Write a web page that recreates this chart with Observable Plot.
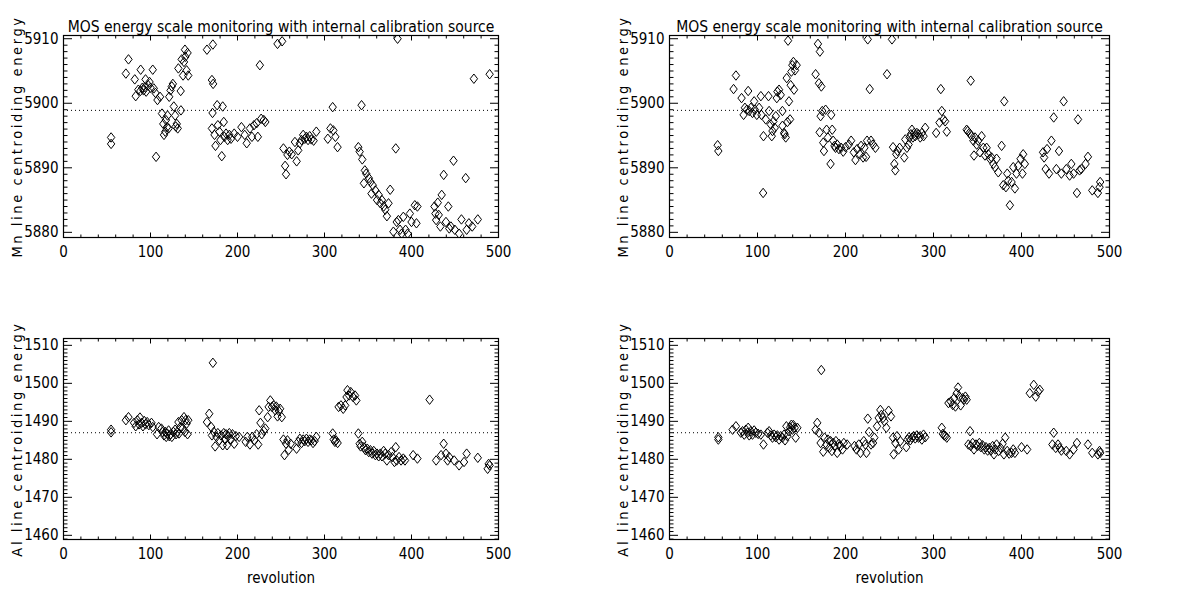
<!DOCTYPE html>
<html><head><meta charset="utf-8">
<script src="https://cdn.jsdelivr.net/npm/d3@7"></script>
<script src="https://cdn.jsdelivr.net/npm/@observablehq/plot@0.6"></script>
<style>
body{margin:0;background:#fff;}
#wrap{position:relative;width:1201px;height:591px;overflow:hidden;background:#fff;}
#wrap svg{position:absolute;}
</style></head><body><div id="wrap"></div>
<script>
const titleText = "MOS energy scale monitoring with internal calibration source";
const xLabel = "revolution";
const mnLabel = "Mn line centroiding energy";
const alLabel = "Al line centroiding energy";
const xTicks = [0,100,200,300,400,500];
const mnTicks = [5880,5890,5900,5910];
const alTicks = [1460,1470,1480,1490,1500,1510];
const mnDomain = [5879.2, 5910.5];
const alDomain = [1458.9, 1511.8];
const mnRef = 5898.9;
const alRef = 1487;

// MOS1 Mn (top left): [revolution, energy]
const mos1Mn = [[54.7,5894.7],[54.7,5893.7],[71.7,5904.6],[74.7,5906.8],[81.9,5903.7],[83,5901.1],[88.7,5905.2],[86,5902.1],[88.3,5901.9],[90.6,5902.4],[92,5902],[93.6,5902.5],[95,5901.8],[94.3,5903.7],[97.4,5902.8],[98.9,5903.3],[100,5902.4],[102.6,5905.2],[103.8,5902.3],[105.7,5901.6],[106.4,5891.7],[108,5900.5],[111,5901],[113.2,5898.4],[114.7,5896.8],[115.5,5895.1],[117,5895.6],[117.7,5897.4],[118.9,5896.3],[119.6,5898.1],[120.8,5896.1],[121.5,5901],[123,5902],[124.5,5902.6],[125.7,5903],[126.8,5899.5],[128.3,5898.1],[129,5896.4],[130.2,5896.8],[131.3,5896.1],[132,5905.4],[134.7,5901.9],[135,5898.9],[135.8,5906.8],[137.4,5904.3],[138.5,5906.4],[139.6,5908.3],[140,5907.2],[141.5,5905.1],[142.6,5907.8],[143.4,5904.3],
[164.9,5908.3],[171.7,5909.1],[170.6,5903.6],[172,5903],[171.3,5898.5],[170.6,5896.1],[173.6,5895.1],[174.7,5893.4],[176.6,5899.7],[177.4,5896.6],[179.2,5895.6],[180.4,5894.3],[183,5899.5],[181.9,5891.8],[184.2,5897.1],[184.9,5894.8],[186.8,5895.3],[188.7,5894.3],[190.6,5895.1],[192.5,5894.5],[196.2,5895.3],[200,5894.8],[204.5,5896.3],[208.3,5895.1],[210.6,5893.8],[214.3,5896.1],[216.6,5894.8],[218.9,5896.6],[221.9,5896.9],[223.4,5894.8],[225.7,5905.9],[227.2,5897.6],[230.2,5897.4],[232,5897.1],
[246,5909.2],[251.3,5909.6],[252.8,5893],[254.7,5890.3],[255.8,5889],[257.4,5892],[259.6,5892.5],[262.3,5892.1],[266,5894],[268,5891],[269.8,5892.7],[271.7,5893.8],[273.6,5894.3],[275.5,5895.1],[277.4,5894.5],[279.2,5894.8],[281.1,5894.3],[283,5894.9],[284.9,5894.4],[287.5,5894.2],[290.6,5895.6],[303.8,5894.5],[306.8,5896.1],[309.4,5899.4],[310.2,5895.8],[312.5,5894.8],[315,5893.2],
[338.9,5893.2],[340.4,5892.5],[342.6,5899.7],[343.4,5891.3],[346.4,5889.6],[347.9,5889.1],[345.3,5887.6],[351,5888.4],[352.8,5887.8],[354,5886],[355.5,5887.3],[358.5,5886.5],[360.4,5885],[362.3,5885.8],[364.2,5884.5],[366,5885],[368,5884],[369.8,5883.5],[371.7,5882.5],[373.6,5884.5],[375.5,5886.6],[384,5910],[381.9,5893],[379.2,5880.1],[383,5881.6],[384.9,5881.9],[386.8,5880.4],[388.7,5879.8],[390.6,5882.4],[393.2,5880.4],[395.5,5879.8],[398.1,5882.9],[400,5881.6],[403.8,5884.2],[405.7,5881.4],[406.8,5884],
[426.4,5884],[427.5,5882.9],[428.3,5881.9],[430.2,5884.6],[431.3,5882.7],[433.2,5880.9],[434.7,5885.8],[437,5888.9],[439.6,5881.6],[442.3,5884],[443.4,5880.6],[445.3,5880.9],[448.3,5891.1],[449.8,5880.4],[454.7,5879.8],[457.4,5882],[462.3,5888.4],[463.4,5880.4],[466,5881.4],[469.8,5880.9],[471.7,5903.8],[476.2,5882],[489.8,5904.5]];

// MOS2 Mn (top right)
const mos2Mn = [[54.7,5893.5],[55.5,5892.6],[72.8,5902.2],[75.5,5904.3],[81.9,5900.8],[84.2,5898.2],[89.4,5901.9],[85.7,5899.3],[87.9,5899],[90.6,5898.8],[92.5,5899.3],[94.3,5898.5],[96.2,5900.3],[97,5899],[99.2,5898.2],[101.9,5899.3],[103.8,5901.1],[104.5,5898.2],[106.8,5894.9],[106.4,5886.1],[109.4,5897.5],[112.5,5901.1],[113.2,5898.8],[115.1,5896.7],[116.2,5894.9],[117,5895.7],[118.1,5897.2],[119.6,5896.2],[120.8,5898],[121.9,5900.8],[122.6,5901.8],[124.5,5902.1],[126.4,5901.3],[128.3,5898.8],[128.3,5896.5],[130.2,5895.4],[130.9,5895.2],[132.1,5894.7],[133.2,5903.9],[134,5897.1],[134.7,5909.7],[135.8,5900.3],[137,5897.5],[137.7,5902.8],[138.5,5904.9],[139.6,5905.9],[140.8,5906.4],[141.5,5902.1],[142.6,5905.1],[144.5,5905.9],
[166,5904.5],[168.7,5909.2],[170.9,5908],[169.8,5903.1],[172.5,5902.6],[171.7,5898],[170.6,5895.5],[173.6,5898.8],[174.7,5893.9],[175.5,5892.6],[177.4,5899],[178.5,5895.9],[180,5894.7],[183,5890.6],[183.8,5898.2],[184.9,5895.9],[186,5894.2],[187.5,5893.4],[188.7,5893.1],[190.6,5893.6],[192.5,5892.9],[195.1,5893.1],[197.4,5892.5],[200,5893.2],[203.8,5893.6],[206.4,5894.2],[209.4,5892.4],[211.3,5891.2],[213.2,5892.9],[216.2,5892.1],[217.7,5893.4],[220,5891.6],[221.5,5893.1],[223.4,5891.7],[224.5,5894.2],[225.3,5909.9],[227.5,5902.2],[229,5894.2],[231.3,5893.6],[234,5893.1],
[247.2,5904.5],[252.8,5909.9],[254,5893.2],[255.5,5890.6],[256.6,5889.6],[257.7,5892.1],[259.2,5892.6],[261.5,5893.1],[266.8,5891.6],[267.9,5894.4],[269.8,5893.1],[271.7,5893.6],[272.8,5894.7],[274.3,5895.2],[275.5,5895.9],[276.6,5894.7],[278.1,5895.4],[279.2,5894.9],[281.1,5895.4],[283,5895.2],[284.9,5894.7],[286.8,5895.4],[288.7,5894.9],[290.6,5896.2],[303,5895.4],[306.8,5897],[308.3,5902.2],[309.4,5898.8],[311.3,5897.5],[313.2,5897.2],[315.1,5895.6],
[337.7,5895.9],[338.9,5895.7],[340.8,5895.4],[342.3,5903.5],[343.4,5894.9],[345.3,5894.2],[346,5891.9],[347.2,5894.7],[349.1,5893.6],[350.9,5894.2],[352.8,5892.4],[354.7,5894.9],[356.6,5893.1],[358.5,5891.9],[360.4,5893.1],[362.3,5892.1],[364.2,5891.4],[366,5891.6],[368,5890.6],[369.8,5890.1],[371.7,5891.4],[373.6,5889.3],[377.4,5893.4],[379.2,5887.3],[380.4,5900.3],[382.3,5887],[383.8,5889.1],[384.9,5888],[386.8,5884.2],[388.7,5887.8],[390.6,5890.1],[392.5,5886.8],[394.3,5889.1],[396.2,5890.3],[398.9,5891.4],[401.1,5889.1],[401.9,5892.1],[403.8,5890.6],
[424.5,5892.4],[425.7,5891.6],[427.5,5889.8],[429,5892.9],[431.3,5889.1],[434,5894.2],[436.6,5897.8],[439.6,5889.8],[442.6,5892.6],[445.3,5889.1],[447.9,5900.3],[450.9,5889.8],[454.7,5888.8],[456.6,5890.6],[459.2,5889.1],[463,5886.1],[464.2,5897.5],[466,5889.6],[467.9,5889.8],[472.8,5890.6],[475.5,5891.7],[480.4,5886.5],[486.8,5886.1],[488.7,5887],[489.4,5887.8]];

// MOS1 Al (bottom left)
const mos1Al = [[54.7,1487.8],[54.7,1487.1],[71.7,1490.3],[74.7,1491.1],[81.1,1489.6],[83,1488.7],[84.9,1490.3],[86.8,1489.2],[87.9,1491],[89.8,1489.6],[91.3,1488.7],[92.8,1490.1],[94.3,1489.2],[96.2,1489.8],[98.1,1489],[101.1,1489.6],[102.6,1488.5],[107.5,1486.6],[109.4,1488.5],[112.5,1488.1],[114,1487.2],[115.5,1486.3],[117,1487.2],[118.1,1485.9],[119.2,1486.8],[120.8,1487.6],[121.5,1486.1],[123,1486.6],[124.5,1485.9],[126.4,1487.2],[128.3,1487.8],[129.4,1486.6],[130.6,1487.2],[132.1,1489.8],[132.8,1486.8],[134.3,1488.5],[135.8,1490.3],[136.9,1488.1],[138.5,1491.1],[139.6,1487.2],[140.4,1490.3],[141.5,1489.4],[142.6,1486.6],[143.4,1490.3],
[164.9,1489.8],[167.5,1492],[169.8,1488.5],[171.7,1505.4],[170.6,1486.3],[172.8,1487.2],[174.3,1483.4],[175.8,1485.9],[177.4,1486.9],[179.2,1485],[181.1,1486.3],[183,1483.7],[184.2,1486.9],[185.7,1485.2],[186.8,1486.6],[188,1483.7],[189.4,1486.1],[190.6,1486.9],[192.5,1485.2],[194.3,1486.6],[196.2,1484.1],[198.1,1486.1],[201.9,1485.9],[209.4,1484.6],[211.3,1485.9],[214.3,1483.9],[217,1485.9],[219.6,1485],[221.9,1486.6],[223.8,1483.9],[224.9,1492.9],[226.4,1489.6],[227.9,1486.6],[230.2,1487.5],[232,1488.1],[234.7,1491.1],[235.8,1493.8],[237.7,1495.5],[239.6,1493.8],[241.5,1494.2],[243.4,1492.9],[244.5,1493.9],[246,1491.3],[247.5,1492.7],[249,1493.3],[250.9,1491.1],[252.8,1485.2],[254,1481.1],[255.8,1484.1],[257.4,1485],[258.9,1482.5],[261.1,1484.1],[267.9,1482.8],[269.8,1484.6],[271.7,1485.4],[273.6,1484.3],[275.5,1485.2],[277.4,1484.8],[279.2,1485.4],[281.1,1484.6],[283,1485.2],[284.9,1485],[286.8,1484.3],[288.7,1484.8],[290.6,1485.9],
[309.4,1486.8],[310.6,1485.2],[312,1484.6],[313.2,1485],[315.1,1484.3],[316.2,1493.8],[318.9,1494.2],[321.5,1493.3],[323.8,1494.2],[325.3,1496.4],[326.4,1498.2],[328.3,1496.8],[330.2,1497.7],[332.8,1496.4],[335.1,1496.8],[336.6,1495.5],[338.9,1486.8],[340.4,1484.1],[341.5,1483.4],[343.4,1484.6],[345.3,1483.2],[347.2,1482.4],[349.1,1482.8],[350.9,1481.9],[352.8,1482.4],[354.7,1481.5],[356.6,1482.2],[358.5,1481.1],[360.4,1481.5],[362.3,1480.8],[364.2,1481.5],[366,1480.8],[368,1482.2],[369.8,1481.5],[371.7,1479.7],[373.6,1481.1],[376.6,1481.9],[378.1,1480.6],[380.4,1479.3],[381.9,1483.2],[383,1479.7],[385.7,1480.6],[388,1479.7],[390.6,1480.2],[392.5,1479.7],[401.9,1481.1],[406.8,1480.2],
[420.8,1495.7],[428.3,1479.7],[434,1481.1],[437,1484.1],[439.6,1481.5],[441.5,1479.7],[443.4,1480.6],[449.1,1479.7],[454.7,1478.4],[460.4,1479.3],[463.4,1481.5],[476.2,1480.4],[487.5,1477.5],[488.7,1478.8],[489.8,1478.4]];

// MOS2 Al (bottom right)
const mos2Al = [[55.5,1485.8],[55.5,1485.2],[71.7,1487.8],[75.5,1488.7],[81.1,1487],[83,1487.4],[84.9,1486.5],[86.8,1487.8],[88.7,1487],[89.4,1488.3],[90.6,1486.3],[92.5,1487.4],[94.3,1486.5],[96.2,1487.6],[98.1,1487],[100.8,1486.7],[103.8,1486.5],[106.8,1483.9],[111.3,1487],[113.2,1487.4],[115.1,1486.3],[117,1485.7],[118.9,1486.5],[120.8,1485.8],[122.6,1486.3],[124.5,1485.2],[126.4,1486.1],[128.3,1485.7],[130.2,1486.5],[131.3,1485],[132.8,1488.7],[134,1486.1],[135.8,1487.4],[137,1488.4],[138.5,1489.1],[139.6,1487.8],[140.8,1489],[142.3,1488.3],[143.4,1485.7],[145.3,1488.3],
[166,1487.8],[167.9,1489.6],[169.8,1487],[172.5,1503.5],[171.7,1484.3],[174.7,1482],[176.2,1485.7],[178.5,1483.9],[180,1485.2],[181.5,1483],[183,1484.8],[184.5,1482.2],[186,1484.3],[187.5,1483.5],[189.1,1484.8],[190.6,1481.7],[192.5,1484.1],[194.3,1483.5],[196.6,1482.6],[198.1,1484.3],[201.9,1483.9],[210.2,1483.5],[212.5,1482.6],[215.1,1483.9],[217,1481.7],[220.8,1484.8],[222.6,1483.9],[223.8,1481.7],[225.3,1490.7],[226.8,1487.2],[229,1483.9],[231.3,1484.3],[232.8,1485.7],[235.8,1488.7],[237.7,1490.9],[239.6,1493],[240.8,1491.7],[242.6,1490.9],[244.2,1490],[246.4,1488.3],[249,1492.8],[251.7,1491.3],[254,1485.7],[254.7,1481.3],[256.6,1484.3],[258.5,1486.1],[260.4,1482.6],[262.3,1484.8],[269.1,1483.2],[270.6,1485.2],[272.1,1485.8],[273.6,1485],[275.5,1485.7],[277.4,1486.1],[279.2,1485.5],[281.1,1486.3],[283,1485.7],[284.9,1486.1],[286.8,1485.2],[288.7,1486.5],[290.6,1485.8],
[309.4,1488.3],[310.6,1486.7],[312.1,1486.3],[313.6,1486.1],[315.1,1485.7],[317,1494.8],[319.6,1495.2],[321.9,1494.3],[323.4,1496.1],[324.9,1493.9],[326.4,1497.4],[327.9,1498.9],[329.4,1496.5],[330.9,1494.2],[333.2,1496.1],[334.7,1495.7],[336.2,1496.5],[337.7,1495.7],[339.6,1483.9],[341.5,1487.4],[342.3,1483.5],[344.5,1484.3],[346,1482.6],[348.3,1483.9],[350.2,1483.5],[352.1,1484.3],[353.9,1483.2],[355.8,1483.7],[357.7,1482.6],[359.6,1483.2],[361.5,1482.3],[363.4,1483],[365.3,1482.3],[367.2,1483.5],[368.7,1481.3],[370.2,1482.6],[371.7,1483.9],[374,1482.2],[376.2,1483],[378.5,1484.1],[380,1481.3],[381.5,1485.7],[383.8,1482.2],[386,1481.5],[388.7,1481.7],[390.6,1482.6],[392.5,1481.7],[400,1483.2],[406.4,1482.6],
[409.4,1497.4],[413.9,1499.6],[416.2,1496.5],[418.9,1497.8],[420.8,1498.3],[436.6,1487],[435.1,1483.9],[438.9,1483],[441.5,1483.9],[443.4,1483],[445.3,1482.3],[450.9,1482.2],[454.7,1481.3],[459.2,1482.6],[463,1484.3],[475.5,1483.9],[480.4,1481.7],[486.8,1481.3],[488.7,1482.2],[489.4,1481.7]];

const FONT = '"Liberation Sans Narrow","DejaVu Sans Condensed","Arial Narrow",sans-serif';
const diamond = {draw(ctx, size){ const r = Math.sqrt(size/Math.PI); const w = r*0.86, h = r*1.1; ctx.moveTo(0,-h); ctx.lineTo(w,0); ctx.lineTo(0,h); ctx.lineTo(-w,0); ctx.closePath(); }};

function minors(lo, hi, step, majors){ return d3.range(Math.ceil(lo/step)*step, hi+1e-9, step).filter(v => !majors.includes(v)); }
const fmt = d => String(d);

function panel(o){
  const xMinor = minors(0, 500, 20, xTicks);
  const yMinor = minors(o.yDomain[0], o.yDomain[1], 1, o.yTicks);
  const T = {stroke:"black", fill:"none", label:null};
  const marks = [
    Plot.ruleY([o.ref], {stroke:"black", strokeWidth:1, strokeDasharray:"1,3"}),
    Plot.dot(o.data, {x:d=>d[0], y:d=>d[1], symbol:diamond, r:4.3, stroke:"black", strokeWidth:1, fill:"none", clip:true}),
    Plot.frame({stroke:"black", strokeWidth:1.2}),
    Plot.axisX(xTicks, {anchor:"bottom", tickSize:4.5, dy:-4.5, ...T}),
    Plot.axisX(xMinor, {anchor:"bottom", tickSize:2.5, dy:-2.5, ...T}),
    Plot.axisX(xTicks, {anchor:"top", tickSize:4.5, dy:4.5, ...T}),
    Plot.axisX(xMinor, {anchor:"top", tickSize:2.5, dy:2.5, ...T}),
    Plot.axisY(o.yTicks, {anchor:"left", tickSize:9, dx:9, ...T}),
    Plot.axisY(yMinor, {anchor:"left", tickSize:4.5, dx:4.5, ...T}),
    Plot.axisY(o.yTicks, {anchor:"right", tickSize:9, dx:-9, ...T}),
    Plot.axisY(yMinor, {anchor:"right", tickSize:4.5, dx:-4.5, ...T}),
    Plot.axisX(xTicks, {anchor:"bottom", tickSize:0, tickPadding:9, label:null, fill:"black", tickFormat:fmt}),
    Plot.axisY(o.yTicks, {anchor:"left", tickSize:0, tickPadding:5, label:null, fill:"black", tickFormat:fmt}),
    Plot.text([o.ylabel], {text:d=>d, frameAnchor:"left", textAnchor:"middle", rotate:-90, dx:-46, fontSize:14.5})
  ];
  if (o.title) marks.push(Plot.text([o.title], {text:d=>d, frameAnchor:"top", dy:-15, fontSize:15.5}));
  if (o.xlabel) marks.push(Plot.text([o.xlabel], {text:d=>d, frameAnchor:"bottom", dy:43, fontSize:15}));
  const svg = Plot.plot({
    width:o.width, height:o.height,
    marginLeft:o.mL, marginRight:o.mR, marginTop:o.mT, marginBottom:o.mB,
    x:{domain:[0,500]}, y:{domain:o.yDomain},
    style:{fontFamily:FONT, fontSize:"15px", color:"black", background:"transparent", overflow:"visible"},
    marks
  });
  svg.querySelectorAll("text").forEach(t => {
    if (t.textContent === o.ylabel) { t.setAttribute("letter-spacing", "2.6"); t.style.letterSpacing = "2.6px"; }
  });
  svg.style.left = o.left + "px";
  svg.style.top = o.top + "px";
  document.getElementById("wrap").appendChild(svg);
}

panel({data:mos1Mn, yDomain:mnDomain, yTicks:mnTicks, ref:mnRef, ylabel:mnLabel, title:titleText,
  left:0, top:0, width:600, height:270, mL:63, mR:102, mT:35, mB:33});
panel({data:mos2Mn, yDomain:mnDomain, yTicks:mnTicks, ref:mnRef, ylabel:mnLabel, title:titleText,
  left:600, top:0, width:601, height:270, mL:69, mR:92, mT:35, mB:33});
panel({data:mos1Al, yDomain:alDomain, yTicks:alTicks, ref:alRef, ylabel:alLabel, xlabel:xLabel,
  left:0, top:270, width:600, height:321, mL:63, mR:102, mT:68, mB:52});
panel({data:mos2Al, yDomain:alDomain, yTicks:alTicks, ref:alRef, ylabel:alLabel, xlabel:xLabel,
  left:600, top:270, width:601, height:321, mL:69, mR:92, mT:68, mB:52});
</script></body></html>
